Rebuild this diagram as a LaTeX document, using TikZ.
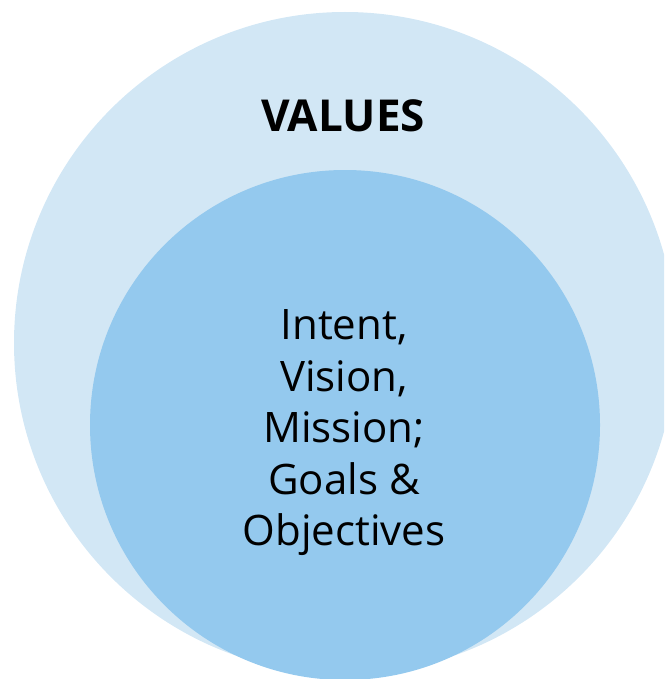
\documentclass[tikz,border=0pt]{standalone}
\usepackage{fontspec}
\setmainfont{Open Sans}
\definecolor{outerblue}{RGB}{210,231,245}
\definecolor{innerblue}{RGB}{148,201,238}
\begin{document}
\begin{tikzpicture}[x=1pt,y=-1pt,
  disc/.style={circle,draw=none,inner sep=0pt},
  lbl/.style={align=center,text=black,inner sep=0pt}]
\useasboundingbox (0,0) rectangle (664,679);
\begin{scope}
\clip (0,0) rectangle (664,679);
\node[disc,fill=outerblue,minimum size=662pt] (outer) at (345,343) {};
\node[disc,fill=innerblue,minimum size=510pt] (inner) at (345,425) {};
\end{scope}
\node[lbl,font=\fontsize{44}{50}\selectfont\bfseries] (values) at (343,116) {VALUES};
\node[lbl,font=\fontsize{42}{51.5}\selectfont] (core) at (344,433) {Intent,\\Vision,\\Mission;\\Goals \&\\Objectives};
\end{tikzpicture}
\end{document}
